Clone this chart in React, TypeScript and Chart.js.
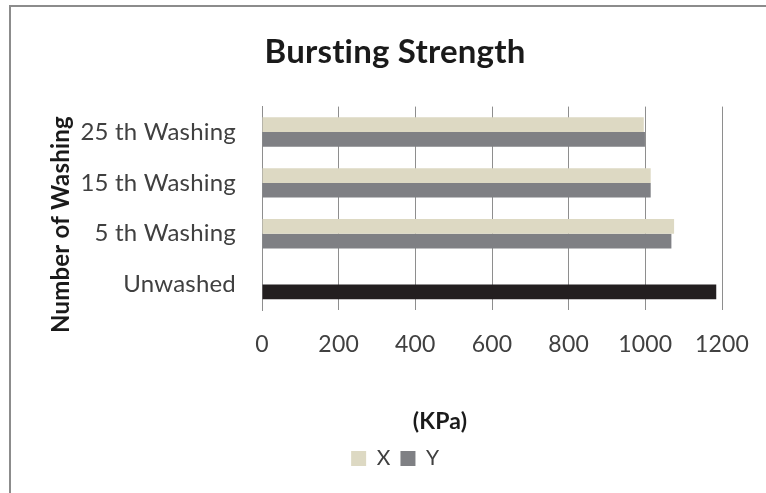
import React, { useEffect, useRef } from "react";
import { Chart, registerables } from "chart.js";

Chart.register(...registerables);

const CATEGORIES = ["25 th Washing", "15 th Washing", "5 th Washing", "Unwashed"];
const SERIES_X = [996, 1014, 1075, null];
const SERIES_Y = [999, 1014, 1068, 1185];
const Y_COLORS = ["#7f8084", "#7f8084", "#7f8084", "#231f20"];
const X_TICKS = [0, 200, 400, 600, 800, 1000, 1200];

const TITLE = "Bursting Strength";
const X_TITLE = "(KPa)";
const Y_TITLE = "Number of Washing";

const FONT = "Lato, 'Open Sans', sans-serif";

const noLigatures = {
  id: "noLigatures",
  beforeDraw(chart: any) {
    try {
      (chart.ctx as any).letterSpacing = "0.2px";
    } catch (e) {}
  },
};

const axisTitles = {
  id: "axisTitles",
  afterDraw(chart: any) {
    const { ctx, chartArea } = chart;
    ctx.save();
    ctx.fillStyle = "#1a1a1a";
    ctx.font = `bold 23px ${FONT}`;
    ctx.textAlign = "center";
    ctx.textBaseline = "middle";
    ctx.fillText(X_TITLE, chartArea.left + 178, chartArea.bottom + 112);
    ctx.font = `bold 24px ${FONT}`;
    ctx.translate(chartArea.left - 201, chartArea.top + 118);
    ctx.rotate(-Math.PI / 2);
    ctx.fillText(Y_TITLE, 0, 0);
    ctx.restore();
  },
};

export default function App() {
  const ref = useRef<HTMLCanvasElement>(null);
  useEffect(() => {
    if (!ref.current) return;
    const chart = new Chart(ref.current, {
      type: "bar",
      data: {
        labels: CATEGORIES,
        datasets: [
          {
            label: "X",
            data: SERIES_X as any,
            backgroundColor: "#ddd9c3",
            borderWidth: 0,
          },
          {
            label: "Y",
            data: SERIES_Y,
            backgroundColor: (c: any) =>
              c.type === "data" ? Y_COLORS[c.dataIndex] : Y_COLORS[0],
            borderWidth: 0,
          },
        ],
      },
      options: {
        indexAxis: "y",
        animation: false,
        responsive: false,
        layout: { padding: { left: 0, right: 0, top: 0, bottom: 23 } },
        datasets: { bar: { categoryPercentage: 0.58, barPercentage: 1 } },
        plugins: {
          title: {
            display: true,
            text: TITLE,
            color: "#1a1a1a",
            font: { family: FONT, size: 33, weight: "bold" },
            padding: { top: 26, bottom: 34 },
          },
          legend: {
            display: true,
            position: "bottom",
            labels: {
              color: "#404040",
              font: { family: FONT, size: 21 },
              boxWidth: 15,
              boxHeight: 15,
              padding: 10,
            },
          },
          tooltip: { enabled: false },
        },
        scales: {
          x: {
            type: "linear",
            min: 0,
            max: 1200,
            afterBuildTicks: (s: any) => {
              s.ticks = X_TICKS.map((v) => ({ value: v }));
            },
            afterFit: (s: any) => {
              s.height = 128;
            },
            grid: { color: "#8e8e8e", lineWidth: 1, drawTicks: false },
            border: { display: false },
            ticks: {
              color: "#404040",
              font: { family: FONT, size: 23 },
              padding: 21,
              callback: (v: any) => String(v),
            },
          },
          y: {
            afterFit: (s: any) => {
              s.width = 251;
            },
            grid: { display: false, drawTicks: false },
            border: { display: true, color: "#8e8e8e", width: 1 },
            ticks: {
              color: "#404040",
              font: { family: FONT, size: 24 },
              padding: 26,
            },
          },
          spacer: {
            type: "category",
            position: "right",
            labels: [""],
            afterFit: (s: any) => {
              s.width = 57;
            },
            grid: { display: false, drawTicks: false },
            border: { display: false },
            ticks: { display: false },
          },
        },
      },
      plugins: [noLigatures, axisTitles],
    } as any);
    return () => chart.destroy();
  }, []);

  return (
    <div
      style={{
        position: "fixed",
        left: 0,
        top: 0,
        width: 766,
        height: 493,
        overflow: "hidden",
        background: "#fff",
      }}
    >
      <div
        style={{
          position: "absolute",
          left: 9,
          top: 5,
          width: 820,
          height: 540,
          borderTop: "2px solid #8c8c8c",
          borderLeft: "2px solid #8c8c8c",
          boxSizing: "border-box",
        }}
      >
        <canvas ref={ref} width={768} height={495} style={{ display: "block" }} />
      </div>
    </div>
  );
}
